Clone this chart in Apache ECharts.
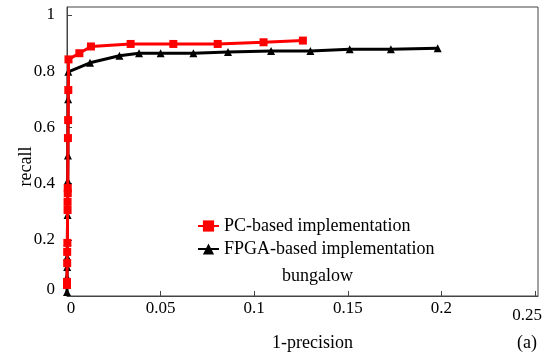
<!DOCTYPE html>
<html>
<head><meta charset="utf-8"></head>
<script type="text/javascript" src="https://cdn.jsdelivr.net/npm/echarts@6/dist/echarts.min.js"></script>
<body style="margin:0;background-color:white;">
<div id="main" style="width:553px;height:359px;"></div>
<script>
// PC-based implementation (red squares)
var pcX = [0, 0, 0.0001, 0.0001, 0.0002, 0.0003, 0.0003, 0.0004, 0.0004, 0.0005, 0.0006, 0.0007, 0.0008, 0.0066, 0.0128, 0.034, 0.0568, 0.0805, 0.105, 0.126];
var pcY = [0.039, 0.05, 0.117, 0.157, 0.189, 0.306, 0.335, 0.366, 0.384, 0.562, 0.626, 0.733, 0.842, 0.864, 0.888, 0.897, 0.897, 0.897, 0.903, 0.909];
// FPGA-based implementation (black triangles)
var fpX = [0, 0, 0, 0.0001, 0.0001, 0.0002, 0.0003, 0.0004, 0.0005, 0.0006, 0.0007, 0.0123, 0.028, 0.0385, 0.050, 0.0675, 0.086, 0.109, 0.130, 0.151, 0.173, 0.198];
var fpY = [0.014, 0.04, 0.068, 0.103, 0.139, 0.192, 0.288, 0.41, 0.50, 0.70, 0.798, 0.830, 0.855, 0.864, 0.864, 0.864, 0.868, 0.872, 0.872, 0.878, 0.878, 0.882];
var xTicks = [0, 0.05, 0.1, 0.15, 0.2, 0.25];
var yTicks = [0, 0.2, 0.4, 0.6, 0.8, 1];

function pairs(xs, ys) {
    return xs.map(function (x, i) { return [x, ys[i]]; });
}

var serif = 'Liberation Serif';
var myChart = echarts.init(document.getElementById('main'));

var option = {
    animation: false,
    grid: {
        left: 67, right: 15, top: 7, bottom: 63,
        show: true, borderColor: '#444', borderWidth: 1
    },
    legend: {
        orient: 'vertical',
        left: 197, top: 217,
        padding: 0,
        itemWidth: 21, itemHeight: 14, itemGap: 5,
        textStyle: { fontFamily: serif, fontSize: 18, color: '#000' },
        data: ['PC-based implementation', 'FPGA-based implementation']
    },
    graphic: [
        { type: 'text', left: 282, top: 267, style: { text: 'bungalow', font: '18px ' + serif, fill: '#000' } },
        { type: 'text', left: 517, top: 334, style: { text: '(a)', font: '18px ' + serif, fill: '#000' } }
    ],
    xAxis: {
        type: 'value',
        min: 0, max: 0.2516,
        name: '1-precision',
        nameLocation: 'middle',
        nameGap: 38,
        nameTextStyle: { fontFamily: serif, fontSize: 18, color: '#000', padding: [0, 0, 0, 20] },
        axisLine: { lineStyle: { color: '#444', width: 1 } },
        axisTick: { inside: true, length: 5, customValues: xTicks, lineStyle: { color: '#444' } },
        axisLabel: {
            customValues: xTicks,
            margin: 4,
            fontFamily: serif, fontSize: 17, color: '#000',
            formatter: function (v) {
                if (v === 0) return '{z|0}';
                if (v === 0.25) return '{e|0.25}';
                return String(v);
            },
            rich: {
                z: { fontFamily: serif, fontSize: 17, color: '#000', padding: [0, 0, 0, 8] },
                e: { fontFamily: serif, fontSize: 17, color: '#000', padding: [7, 16, 0, 0] }
            }
        },
        splitLine: { show: false }
    },
    yAxis: {
        type: 'value',
        min: 0, max: 1.0285,
        name: 'recall',
        nameLocation: 'middle',
        nameGap: 32,
        nameMoveOverlap: false,
        nameTextStyle: { fontFamily: serif, fontSize: 18, color: '#000', padding: [0, 30, 0, 0] },
        axisLine: { lineStyle: { color: '#444', width: 1 } },
        axisTick: { inside: true, length: 5, customValues: yTicks, lineStyle: { color: '#444' } },
        axisLabel: {
            customValues: yTicks,
            margin: 12,
            fontFamily: serif, fontSize: 17, color: '#000',
            formatter: function (v) {
                if (v === 0) return '{z|0}';
                return String(v);
            },
            rich: {
                z: { fontFamily: serif, fontSize: 17, color: '#000', padding: [0, 0, 12, 0] }
            }
        },
        splitLine: { show: false }
    },
    series: [
        {
            name: 'PC-based implementation',
            type: 'line',
            data: pairs(pcX, pcY),
            color: '#ff0000',
            symbol: 'rect', symbolSize: 8,
            lineStyle: { width: 3 },
            z: 3
        },
        {
            name: 'FPGA-based implementation',
            type: 'line',
            data: pairs(fpX, fpY),
            color: '#000000',
            symbol: 'triangle', symbolSize: 8,
            lineStyle: { width: 3 },
            z: 2
        }
    ]
};

option && myChart.setOption(option);
</script>
</body>
</html>
